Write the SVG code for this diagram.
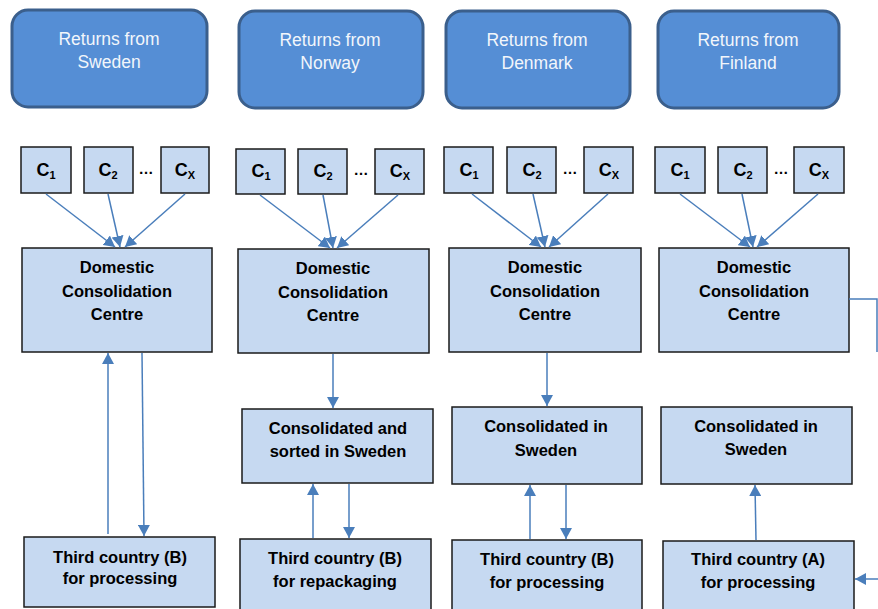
<svg xmlns="http://www.w3.org/2000/svg" width="878" height="609" viewBox="0 0 878 609">
<style>
.top rect{fill:#558ed5;stroke:#3b5f8c;stroke-width:3}
.top text{fill:#f2f6fb;font-family:"Liberation Sans",Arial,sans-serif;font-size:17.5px;text-anchor:middle}
.box rect{fill:#c6d9f1;stroke:#1a1a1a;stroke-width:1.5}
.box text{fill:#000;font-family:"Liberation Sans",Arial,sans-serif;font-size:16.5px;font-weight:bold;text-anchor:middle}
.c text{font-size:18px}
.c tspan{font-size:11px}
.dots{fill:#000;font-family:"Liberation Sans",Arial,sans-serif;font-size:15px;font-weight:bold;text-anchor:middle}
#connectors line,#connectors polyline{stroke:#4a7ebb;stroke-width:1.5;fill:none}
</style>
<defs>
<marker id="ah" markerUnits="userSpaceOnUse" markerWidth="12" markerHeight="12" refX="11" refY="6" orient="auto">
<path d="M0,0 L11,6 L0,12 z" fill="#4a7ebb"/>
</marker>
</defs>
<rect width="878" height="609" fill="#fff"/>

<!-- top boxes -->
<g id="top-sweden" class="top"><rect x="12" y="10" width="195" height="97" rx="16"/><text x="109" y="45">Returns from</text><text x="109" y="68">Sweden</text></g>
<g id="top-norway" class="top"><rect x="239" y="11" width="184" height="97" rx="16"/><text x="330" y="46">Returns from</text><text x="330" y="69">Norway</text></g>
<g id="top-denmark" class="top"><rect x="446" y="11" width="184" height="97" rx="16"/><text x="537" y="46">Returns from</text><text x="537" y="69">Denmark</text></g>
<g id="top-finland" class="top"><rect x="658" y="11" width="181" height="97" rx="16"/><text x="748" y="46">Returns from</text><text x="748" y="69">Finland</text></g>

<!-- C boxes panel 1 -->
<g id="p1-c1" class="box c"><rect x="21" y="147" width="50" height="46"/><text x="46" y="176">C<tspan dy="3">1</tspan></text></g>
<g id="p1-c2" class="box c"><rect x="84" y="147" width="49" height="46"/><text x="108" y="176">C<tspan dy="3">2</tspan></text></g>
<g id="p1-cx" class="box c"><rect x="161" y="147" width="48" height="46"/><text x="185" y="176">C<tspan dy="3">X</tspan></text></g>
<text class="dots" x="146" y="174">…</text>
<!-- panel 2 -->
<g id="p2-c1" class="box c"><rect x="236" y="149" width="49" height="45"/><text x="261" y="177">C<tspan dy="3">1</tspan></text></g>
<g id="p2-c2" class="box c"><rect x="298" y="149" width="49" height="45"/><text x="323" y="177">C<tspan dy="3">2</tspan></text></g>
<g id="p2-cx" class="box c"><rect x="375" y="149" width="49" height="45"/><text x="400" y="177">C<tspan dy="3">X</tspan></text></g>
<text class="dots" x="361" y="175">…</text>
<!-- panel 3 -->
<g id="p3-c1" class="box c"><rect x="444" y="147" width="49" height="46"/><text x="469" y="176">C<tspan dy="3">1</tspan></text></g>
<g id="p3-c2" class="box c"><rect x="507" y="147" width="49" height="46"/><text x="532" y="176">C<tspan dy="3">2</tspan></text></g>
<g id="p3-cx" class="box c"><rect x="584" y="147" width="49" height="46"/><text x="609" y="176">C<tspan dy="3">X</tspan></text></g>
<text class="dots" x="570" y="174">…</text>
<!-- panel 4 -->
<g id="p4-c1" class="box c"><rect x="655" y="147" width="50" height="46"/><text x="680" y="176">C<tspan dy="3">1</tspan></text></g>
<g id="p4-c2" class="box c"><rect x="718" y="147" width="49" height="46"/><text x="743" y="176">C<tspan dy="3">2</tspan></text></g>
<g id="p4-cx" class="box c"><rect x="794" y="147" width="50" height="46"/><text x="819" y="176">C<tspan dy="3">X</tspan></text></g>
<text class="dots" x="781" y="174">…</text>

<!-- domestic -->
<g id="p1-dom" class="box"><rect x="22" y="248" width="190" height="104"/><text x="117" y="273">Domestic</text><text x="117" y="297">Consolidation</text><text x="117" y="320">Centre</text></g>
<g id="p2-dom" class="box"><rect x="238" y="249" width="191" height="104"/><text x="333" y="274">Domestic</text><text x="333" y="298">Consolidation</text><text x="333" y="321">Centre</text></g>
<g id="p3-dom" class="box"><rect x="449" y="248" width="192" height="104"/><text x="545" y="273">Domestic</text><text x="545" y="297">Consolidation</text><text x="545" y="320">Centre</text></g>
<g id="p4-dom" class="box"><rect x="659" y="248" width="190" height="104"/><text x="754" y="273">Domestic</text><text x="754" y="297">Consolidation</text><text x="754" y="320">Centre</text></g>

<!-- consolidated -->
<g id="p2-cons" class="box"><rect x="242" y="409" width="191" height="74"/><text x="338" y="434">Consolidated and</text><text x="338" y="457">sorted in Sweden</text></g>
<g id="p3-cons" class="box"><rect x="452" y="407" width="190" height="77"/><text x="546" y="432">Consolidated in</text><text x="546" y="456">Sweden</text></g>
<g id="p4-cons" class="box"><rect x="661" y="407" width="191" height="77"/><text x="756" y="432">Consolidated in</text><text x="756" y="455">Sweden</text></g>

<!-- third country -->
<g id="p1-third" class="box"><rect x="24" y="537" width="191" height="70"/><text x="120" y="563">Third country (B)</text><text x="120" y="584">for processing</text></g>
<g id="p2-third" class="box"><rect x="240" y="539" width="191" height="75"/><text x="335" y="564">Third country (B)</text><text x="335" y="587">for repackaging</text></g>
<g id="p3-third" class="box"><rect x="452" y="540" width="190" height="75"/><text x="547" y="565">Third country (B)</text><text x="547" y="588">for processing</text></g>
<g id="p4-third" class="box"><rect x="663" y="541" width="191" height="75"/><text x="758" y="565">Third country (A)</text><text x="758" y="588">for processing</text></g>

<g id="connectors">
<line x1="46" y1="194" x2="115" y2="247" marker-end="url(#ah)"/>
<line x1="108" y1="194" x2="120" y2="247" marker-end="url(#ah)"/>
<line x1="185" y1="194" x2="125" y2="247" marker-end="url(#ah)"/>
<line x1="260" y1="195" x2="330" y2="248" marker-end="url(#ah)"/>
<line x1="323" y1="195" x2="333" y2="248" marker-end="url(#ah)"/>
<line x1="398" y1="195" x2="337" y2="248" marker-end="url(#ah)"/>
<line x1="472" y1="194" x2="541" y2="247" marker-end="url(#ah)"/>
<line x1="533" y1="194" x2="545" y2="247" marker-end="url(#ah)"/>
<line x1="608" y1="194" x2="549" y2="247" marker-end="url(#ah)"/>
<line x1="680" y1="194" x2="750" y2="247" marker-end="url(#ah)"/>
<line x1="742" y1="194" x2="753" y2="247" marker-end="url(#ah)"/>
<line x1="818" y1="194" x2="757" y2="247" marker-end="url(#ah)"/>

<line x1="108" y1="534" x2="108" y2="353" marker-end="url(#ah)"/>
<line x1="142" y1="353" x2="144" y2="536" marker-end="url(#ah)"/>

<line x1="333" y1="354" x2="333" y2="408" marker-end="url(#ah)"/>
<line x1="313" y1="538" x2="313" y2="484" marker-end="url(#ah)"/>
<line x1="349" y1="484" x2="349" y2="538" marker-end="url(#ah)"/>

<line x1="547" y1="353" x2="547" y2="406" marker-end="url(#ah)"/>
<line x1="530" y1="539" x2="530" y2="485" marker-end="url(#ah)"/>
<line x1="566" y1="485" x2="566" y2="539" marker-end="url(#ah)"/>

<line x1="756" y1="540" x2="755" y2="485" marker-end="url(#ah)"/>
<polyline points="849,299 877,299 877,352"/>
<line x1="878" y1="579" x2="855" y2="579" marker-end="url(#ah)"/>
</g>
</svg>
